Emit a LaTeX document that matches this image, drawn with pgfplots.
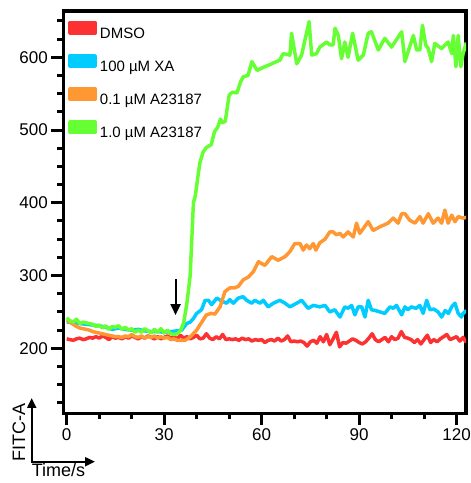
\documentclass[border=0pt]{standalone}
\usepackage{pgfplots}
\pgfplotsset{compat=1.18}
\usepackage{fontspec}
\setmainfont{Liberation Sans}
\usetikzlibrary{arrows.meta}
\definecolor{cdmso}{RGB}{252,50,50}
\definecolor{cxa}{RGB}{0,204,255}
\definecolor{clow}{RGB}{255,152,51}
\definecolor{chigh}{RGB}{102,255,51}
\begin{document}
\begin{tikzpicture}
\begin{axis}[
  at={(0,0)}, anchor=south west,
  scale only axis, width=402.7bp, height=402.3bp,
  xmin=-1.05, xmax=122.9, ymin=110.7, ymax=663.6,
  axis line style={line width=3.5bp},
  xtick={0,30,60,90,120}, minor xtick={10,20,40,50,70,80,100,110},
  ytick={200,300,400,500,600},
  minor ytick={125,150,175,225,250,275,325,350,375,425,450,475,525,550,575,625,650},
  xtick pos=left, ytick pos=left, tick align=outside,
  major tick length=12bp, minor tick length=6bp,
  every tick/.style={black, line width=3bp},
  /pgf/number format/assume math mode=true,
  tick label style={font=\fontsize{17bp}{20bp}\selectfont},
  legend style={draw=none, fill=none, at={(axis description cs:0.011,0.976)},
    anchor=north west, inner sep=0pt, row sep=15.3bp,
    font=\fontsize{15bp}{18bp}\selectfont,
    nodes={inner sep=0pt, text height=10.7bp, text depth=0bp},
    /tikz/every odd column/.append style={column sep=3bp}},
  legend cell align=left,
  legend image code/.code={\fill[#1] (0bp,0.1bp) rectangle (25.5bp,10.7bp);},
  every axis plot/.append style={line width=3.5bp, line join=round, mark=none},
]
\addplot[cdmso] coordinates {
(0,213) (1,212) (2,211) (3,213) (4,214) (5,212) (6,213) (7,215) (8,214) (9,216)
(10,214) (11,217) (12,215) (13,212) (14,216) (15,214) (16,215) (17,213) (18,216) (19,214)
(20,217) (21,215) (22,213) (23,216) (24,214) (25,217) (26,215) (27,213) (28,216) (29,213)
(30,215) (31,217) (32,214) (33,216) (34,213) (35,218) (36,214) (37,216) (38,213) (39,215)
(40,218) (41,213) (42,214) (43,220) (44,214) (45,212) (46,216) (47,213) (48,219) (49,212)
(50,213) (51,212) (52,213) (53,211) (54,214) (55,212) (56,213) (57,210) (58,212) (59,211)
(60,212) (61,208) (62,211) (63,212) (64,210) (65,214) (66,210) (67,212) (68,217) (69,209)
(70,210) (71,209) (72,210) (73,208) (74,203) (75,209) (76,211) (77,207) (78,216) (79,209)
(80,219) (81,205) (82,213) (83,222) (84,202) (85,208) (86,207) (87,210) (88,213) (89,211)
(90,208) (91,206) (92,209) (93,214) (94,220) (95,212) (96,209) (97,212) (98,215) (99,209)
(100,216) (101,212) (102,214) (103,223) (104,215) (105,214) (106,212) (107,208) (108,212) (109,206)
(110,212) (111,218) (112,208) (113,212) (114,209) (115,213) (116,216) (117,219) (118,212) (119,214)
(120,216) (121,210) (122,215) (123,208)
};
\addlegendentry{DMSO}
\addplot[cxa] coordinates {
(0,236) (2,235) (4,234) (6,233) (8,232) (10,231) (12,229) (14,226) (16,228) (18,226)
(20,225) (22,226) (24,224) (26,223) (28,223) (30,222) (32,223) (34,224) (35.4,225) (36.9,234)
(38,236) (39,241) (40,248) (41.5,253) (42.6,266) (43.6,266) (44.6,260) (46.2,269) (47.7,265) (49.2,262)
(50.2,267) (51.3,262) (52.8,269) (54.3,271) (55.4,266) (56.9,262) (57.9,266) (59.5,262) (60.5,266) (62,257)
(63.6,262) (65.6,266) (67.2,262) (68.7,257) (70.8,262) (72.3,266) (74.3,255) (75.9,259) (77.9,257) (79.5,259)
(81,250) (82.5,253) (84.1,243) (85.6,257) (86.6,255) (87.7,259) (88.7,246) (89.7,257) (90.8,257) (91.8,243)
(92.8,266) (93.8,253) (95,252) (96.4,250) (97.9,248) (99.5,257) (100.5,255) (101.5,259) (103.1,246) (104.1,257)
(105,253) (106.1,257) (107.5,255) (108.7,259) (109.7,248) (110.8,266) (111.8,253) (113,254) (114.3,250) (115.4,243)
(116.5,252) (117.5,248) (118.5,257) (119.5,262) (120.5,248) (121.5,243) (122,248) (123,252)
};
\addlegendentry{100 µM XA}
\addplot[clow] coordinates {
(0,239) (1,236) (2,233) (3,230) (4,228) (5,227) (6,226) (7,225) (8,223) (9,222)
(10,221) (11,220) (12,219) (13,218) (14,217) (15,216) (16,216) (17,215) (18,217) (19,216)
(20,219) (21,216) (22,215) (23,217) (24,214) (25,216) (26,215) (27,217) (28,214) (29,216)
(30,214) (31,215) (32,212) (33,213) (34,211) (35,211) (36.4,211) (37.5,214) (38.5,218) (40,225)
(41,232) (42,239) (43,246) (44.5,248) (45.6,247) (47.2,257) (48.7,278) (50.2,283) (51.5,283) (52.8,285)
(54.3,294) (55.9,298) (57.4,305) (59,319) (61,314) (63.1,326) (65.1,321) (67.2,326) (68.7,333) (70.2,344)
(71.8,344) (72.8,335) (73.8,342) (74.8,337) (75.9,344) (76.7,335) (77.9,345) (79.5,350) (81,360) (82,360)
(83,356) (84.1,358) (85.1,353) (86.6,360) (88.2,353) (89.2,372) (90.2,358) (92.8,374) (94.3,362) (96.4,367)
(98.9,372) (100.5,379) (102,372) (103.1,385) (104.1,385) (105.6,376) (107.2,372) (108.7,381) (109.7,372) (111.3,385)
(112.8,372) (114.3,379) (115.4,372) (116.4,390) (117.4,372) (118.5,383) (119.5,374) (120.5,381) (122,379) (123,380)
};
\addlegendentry{0.1 µM A23187}
\addplot[chigh] coordinates {
(0,242) (1,238) (2,236) (3,240) (4,234) (5,236) (6,235) (7,234) (8,233) (9,230)
(10,232) (11,228) (12,231) (13,226) (14,230) (15,229) (16,231) (17,226) (18,229) (19,225)
(20,227) (21,222) (22,225) (23,222) (24,227) (25,224) (26,221) (27,226) (28,222) (29,227)
(30,221) (31,225) (32,220) (33,219) (34,220) (35,224) (36,235) (37,262) (38,300) (39,400)
(39.6,410) (40.5,440) (41,455) (42,470) (43,476) (44.5,480) (45.5,498) (46.5,504) (47.3,515) (48,510)
(48.8,512) (50,548) (51,552) (52.4,551) (53.5,566) (54.3,573) (55.8,575) (57,594) (58.6,582) (60.4,586)
(62.6,590) (64.5,594) (65.6,596) (66.6,605) (68.7,603) (69.2,633) (70.8,591) (72.3,603) (74.6,649) (75.4,603)
(76.9,605) (77.9,614) (80,621) (81,617) (82,617) (82.6,640) (83.6,630) (84.6,598) (85.6,621) (86.6,600)
(88,633) (89.7,596) (91.3,603) (92.8,633) (93.8,635) (95.9,610) (97.9,626) (100,614) (103.1,635) (104.1,594)
(106.7,630) (107.7,610) (108.7,610) (109.5,644) (110.5,617) (111.3,612) (112.3,594) (113.3,619) (115.4,612) (117.4,621)
(118.5,605) (119,630) (119.8,587) (120.5,630) (121.3,587) (122,605) (123,620)
};
\addlegendentry{1.0 µM A23187}
\draw[line width=2bp, -{Triangle[width=10bp,length=11bp]}] (axis cs:33.5,295) -- (axis cs:33.5,245.7);
\end{axis}
\draw[line width=2bp, -{Triangle[width=9bp,length=10bp]}] (-31.6bp,-48.4bp) -- (-31.6bp,15.3bp);
\draw[line width=2bp, -{Triangle[width=9bp,length=10bp]}] (-32.6bp,-48.4bp) -- (31.7bp,-48.4bp);
\node[rotate=90, anchor=base west, inner sep=0pt, font=\fontsize{18bp}{21bp}\selectfont] at (-38.3bp,-48.7bp) {FITC-A};
\node[anchor=base west, inner sep=0pt, font=\fontsize{18bp}{21bp}\selectfont] at (-31.6bp,-62.7bp) {Time/s};
\pgfresetboundingbox
\path[use as bounding box] (-63.3bp,-69.7bp) rectangle (407.7bp,413.3bp);
\end{tikzpicture}
\end{document}
